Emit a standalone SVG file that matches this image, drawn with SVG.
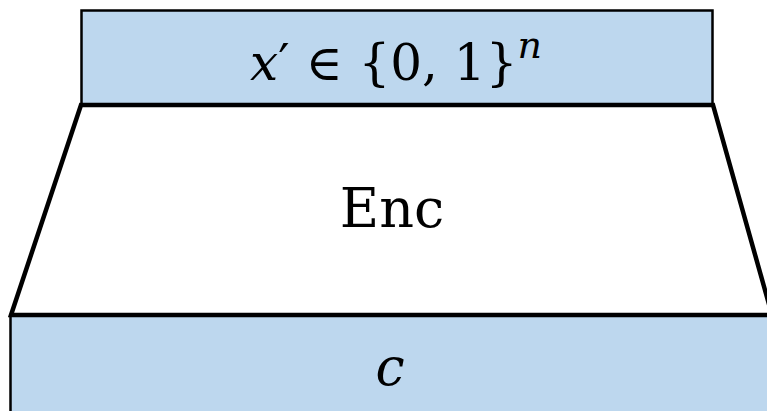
<svg xmlns="http://www.w3.org/2000/svg" width="767" height="411" viewBox="0 0 767 411">
<style>
.box{fill:#BDD7EE;stroke:#000;stroke-width:2.5}
.trap{fill:#fff;stroke:#000;stroke-width:4.5;stroke-linejoin:miter}
.t{font-family:"DejaVu Serif","Liberation Serif",serif;fill:#000;text-anchor:middle}
</style>
<rect width="767" height="411" fill="#fff"/>
<g id="input">
<rect class="box" x="81.5" y="10.5" width="631" height="95"/>
<text class="t" x="396" y="80" font-size="50"><tspan font-style="italic">x</tspan>′ ∈ {0, 1}<tspan font-style="italic" font-size="38" dy="-22">n</tspan></text>
</g>
<g id="output">
<rect class="box" x="10.5" y="315" width="770" height="110"/>
<text class="t" x="390" y="385" font-size="52" font-style="italic">c</text>
</g>
<g id="enc">
<polygon class="trap" points="81,105 713,105 772,315 11,315"/>
<text class="t" x="392" y="227" font-size="54">Enc</text>
</g>
<g id="connectors"></g>
</svg>
